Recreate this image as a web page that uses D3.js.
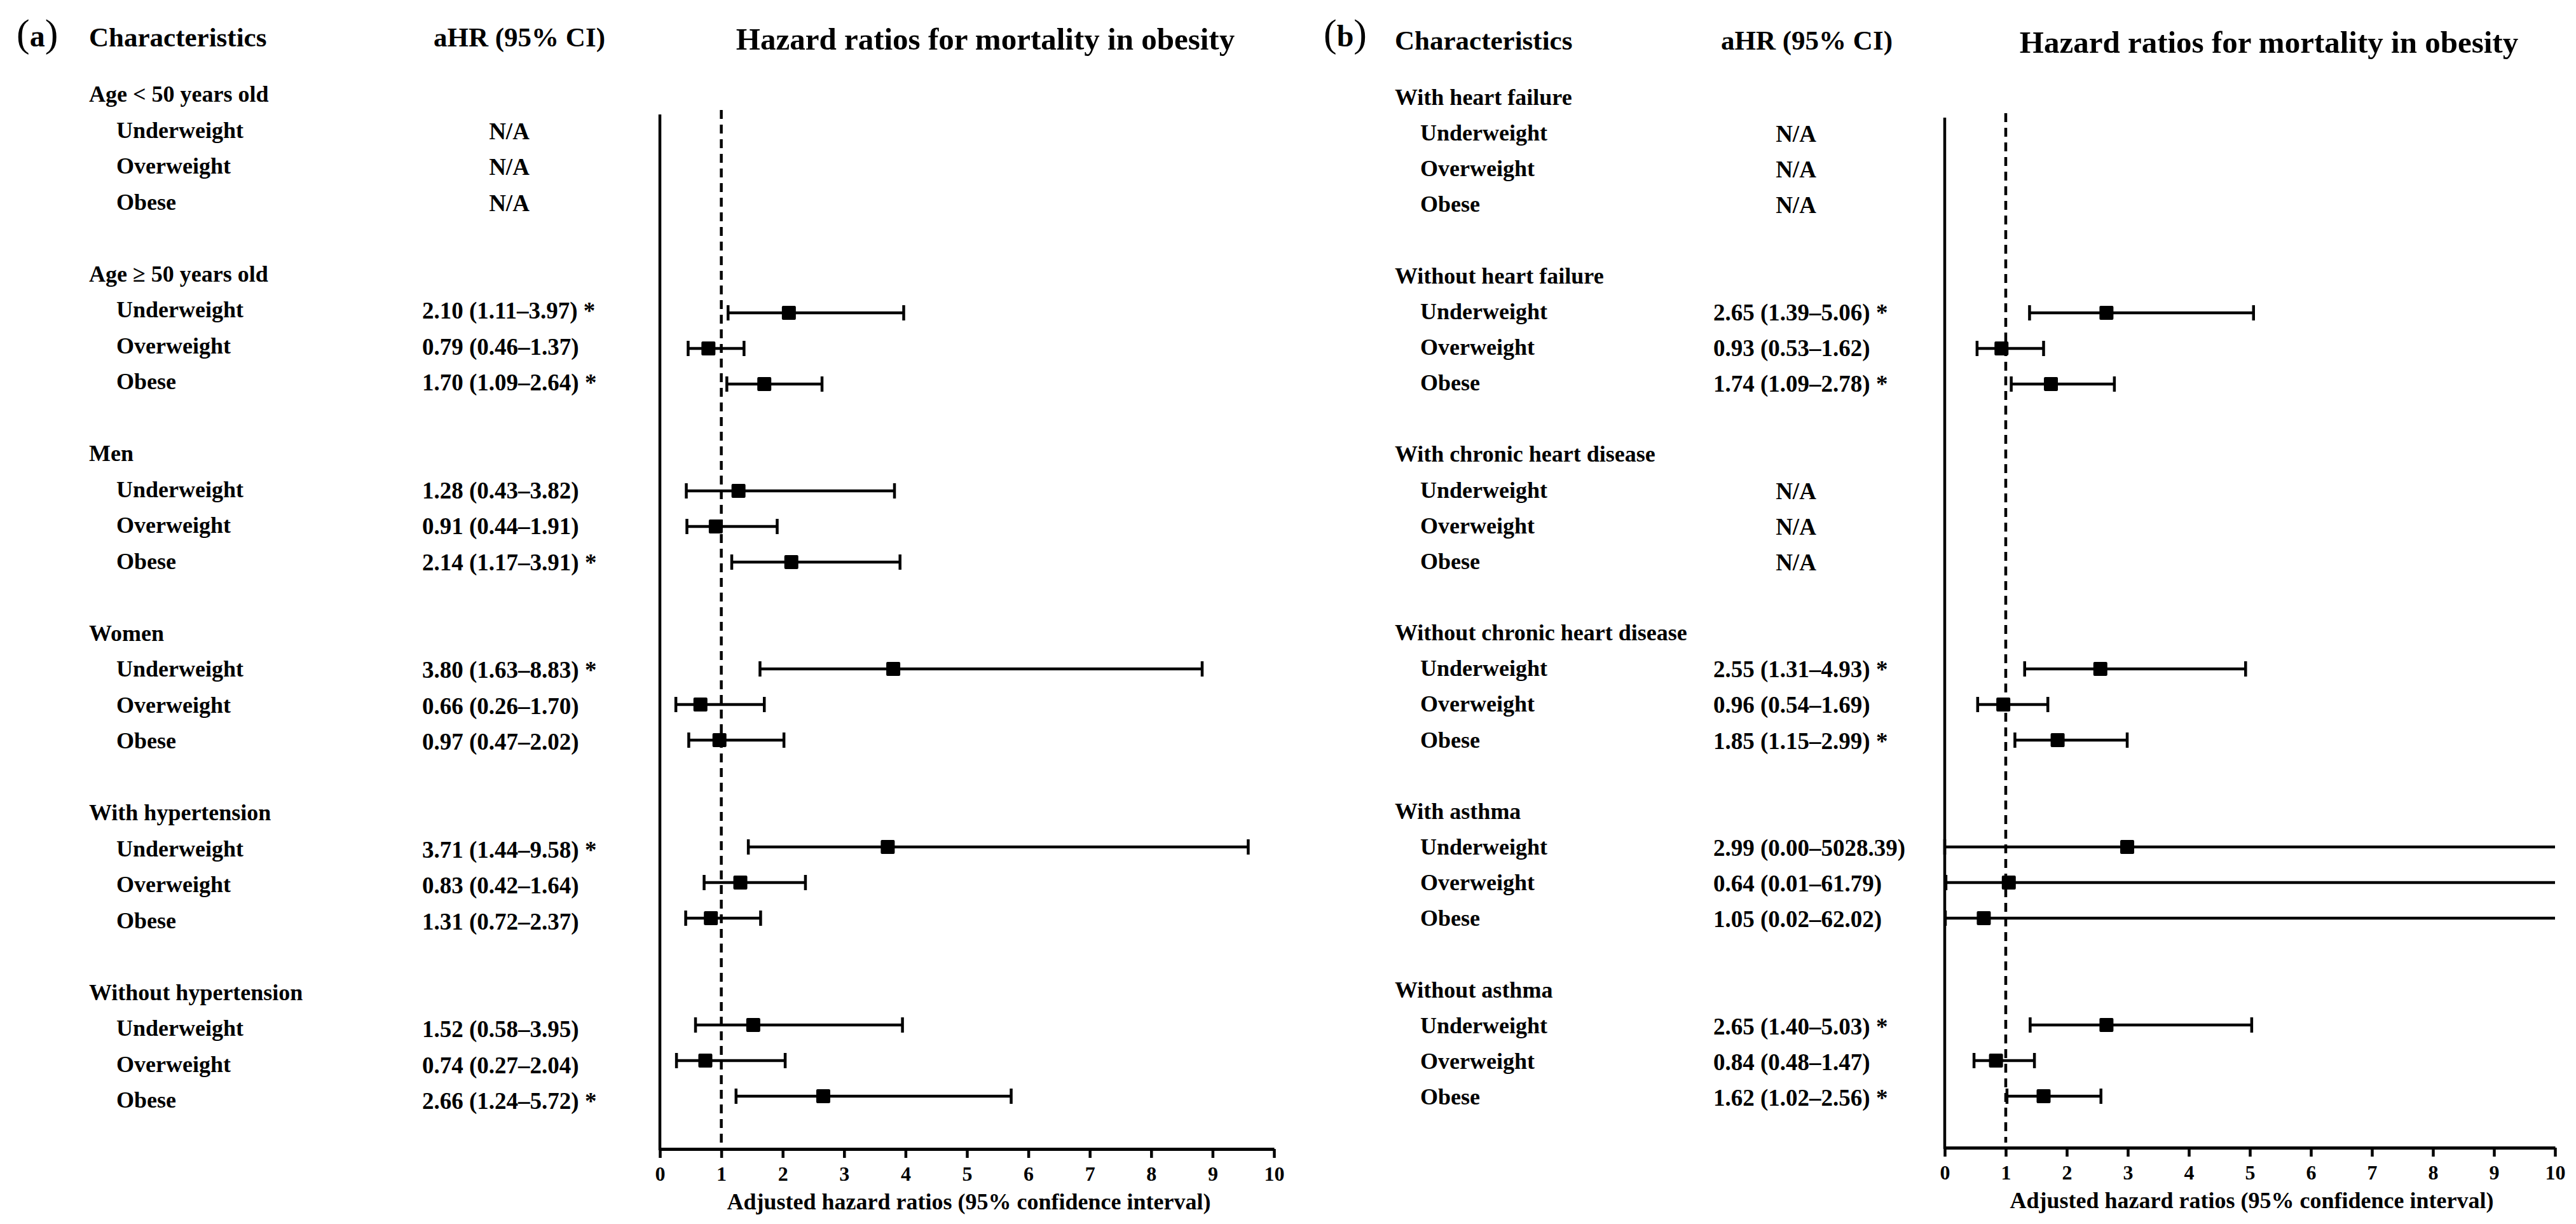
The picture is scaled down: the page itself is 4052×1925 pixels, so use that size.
<!DOCTYPE html>
<html><head><meta charset="utf-8">
<script src="https://cdn.jsdelivr.net/npm/d3@7"></script>
<style>
body{margin:0;background:#fff;}
text{font-family:"Liberation Serif","Times New Roman",serif;font-weight:bold;fill:#000;}
</style>
</head><body>
<svg id="chart" width="4052" height="1925"></svg>
<script>
// ---------- data ----------
const categories = ["Underweight", "Overweight", "Obese"];

const groupsA = ["Age < 50 years old", "Age \u2265 50 years old", "Men", "Women", "With hypertension", "Without hypertension"];
const aHrTextA = [
  ["N/A", "N/A", "N/A"],
  ["2.10 (1.11\u20133.97) *", "0.79 (0.46\u20131.37)", "1.70 (1.09\u20132.64) *"],
  ["1.28 (0.43\u20133.82)", "0.91 (0.44\u20131.91)", "2.14 (1.17\u20133.91) *"],
  ["3.80 (1.63\u20138.83) *", "0.66 (0.26\u20131.70)", "0.97 (0.47\u20132.02)"],
  ["3.71 (1.44\u20139.58) *", "0.83 (0.42\u20131.64)", "1.31 (0.72\u20132.37)"],
  ["1.52 (0.58\u20133.95)", "0.74 (0.27\u20132.04)", "2.66 (1.24\u20135.72) *"]
];
// plotted values as drawn in the figure
const hrA = [[null, null, null], [2.10, 0.79, 1.70], [1.28, 0.91, 2.14], [3.80, 0.66, 0.97], [3.71, 1.31, 0.83], [1.52, 0.74, 2.66]];
const loA = [[null, null, null], [1.11, 0.46, 1.09], [0.43, 0.44, 1.17], [1.63, 0.26, 0.47], [1.44, 0.72, 0.42], [0.58, 0.27, 1.24]];
const hiA = [[null, null, null], [3.97, 1.37, 2.64], [3.82, 1.91, 3.91], [8.83, 1.70, 2.02], [9.58, 2.37, 1.64], [3.95, 2.04, 5.72]];

const groupsB = ["With heart failure", "Without heart failure", "With chronic heart disease", "Without chronic heart disease", "With asthma", "Without asthma"];
const aHrTextB = [
  ["N/A", "N/A", "N/A"],
  ["2.65 (1.39\u20135.06) *", "0.93 (0.53\u20131.62)", "1.74 (1.09\u20132.78) *"],
  ["N/A", "N/A", "N/A"],
  ["2.55 (1.31\u20134.93) *", "0.96 (0.54\u20131.69)", "1.85 (1.15\u20132.99) *"],
  ["2.99 (0.00\u20135028.39)", "0.64 (0.01\u201361.79)", "1.05 (0.02\u201362.02)"],
  ["2.65 (1.40\u20135.03) *", "0.84 (0.48\u20131.47)", "1.62 (1.02\u20132.56) *"]
];
const hrB = [[null, null, null], [2.65, 0.93, 1.74], [null, null, null], [2.55, 0.96, 1.85], [2.99, 1.05, 0.64], [2.65, 0.84, 1.62]];
const loB = [[null, null, null], [1.39, 0.53, 1.09], [null, null, null], [1.31, 0.54, 1.15], [0.00, 0.02, 0.01], [1.40, 0.48, 1.02]];
const hiB = [[null, null, null], [5.06, 1.62, 2.78], [null, null, null], [4.93, 1.69, 2.99], [5028.39, 62.02, 61.79], [5.03, 1.47, 2.56]];

const xTicks = [0, 1, 2, 3, 4, 5, 6, 7, 8, 9, 10];
const xDomain = [0, 10];
const refValue = 1;
const headerChar = "Characteristics";
const headerAhr = "aHR (95% CI)";
const plotTitle = "Hazard ratios for mortality in obesity";
const xAxisTitle = "Adjusted hazard ratios (95% confidence interval)";

// ---------- layout ----------
const panels = [
  {letter: "a", groups: groupsA, text: aHrTextA, hr: hrA, lo: loA, hi: hiA,
   letterX: 26, charX: 140, subX: 183, valX: 664, naX: 801, ahrX: 817,
   x0: 1038, x1: 2004, titleX: 1550, headY: 73, titleY: 78,
   textTop: 160, textBottom: 1742, axisTop: 180, dashTop: 173, axisY: 1807, labelY: 1902},
  {letter: "b", groups: groupsB, text: aHrTextB, hr: hrB, lo: loB, hi: hiB,
   letterX: 2082, charX: 2194, subX: 2234, valX: 2695, naX: 2825, ahrX: 2842,
   x0: 3059, x1: 4019, titleX: 3569, headY: 78, titleY: 83,
   textTop: 165, textBottom: 1737, axisTop: 185, dashTop: 178, axisY: 1805, labelY: 1900}
];

const svg = d3.select("#chart");
const rowsPerGroup = 5;

panels.forEach((p, pi) => {
  const g = svg.append("g");
  const x = d3.scaleLinear().domain(xDomain).range([p.x0, p.x1]);
  const yText = d3.scaleLinear().domain([0, 28]).range([p.textTop, p.textBottom]);
  const yMark = d3.scaleLinear().domain([0, 28]).range([156, 1724]);

  // panel letter
  const lt = g.append("text").attr("x", p.letterX).attr("y", 73);
  lt.append("tspan").attr("font-size", 62).attr("font-weight", "normal").text("(");
  lt.append("tspan").attr("font-size", 48).attr("font-weight", "bold").text(p.letter);
  lt.append("tspan").attr("font-size", 62).attr("font-weight", "normal").text(")");

  g.append("text").attr("x", p.charX).attr("y", p.headY).attr("font-size", 43).text(headerChar);
  g.append("text").attr("x", p.ahrX).attr("y", p.headY).attr("font-size", 43).attr("text-anchor", "middle").text(headerAhr);
  g.append("text").attr("x", p.titleX).attr("y", p.titleY).attr("font-size", 49).attr("text-anchor", "middle").text(plotTitle);

  // rows
  const rows = [];
  p.groups.forEach((grp, gi) => {
    rows.push({type: "head", row: gi * rowsPerGroup, label: grp});
    categories.forEach((c, ci) => {
      rows.push({type: "item", row: gi * rowsPerGroup + 1 + ci, label: c, val: p.text[gi][ci],
        hr: p.hr[gi][ci], lo: p.lo[gi][ci], hi: p.hi[gi][ci]});
    });
  });

  g.selectAll("text.lab").data(rows).join("text").attr("class", "lab")
    .attr("x", d => d.type === "head" ? p.charX : p.subX)
    .attr("y", d => yText(d.row))
    .attr("font-size", 36)
    .text(d => d.label);

  const items = rows.filter(d => d.type === "item");
  g.selectAll("text.val").data(items).join("text").attr("class", "val")
    .attr("x", d => d.val === "N/A" ? p.naX : p.valX)
    .attr("text-anchor", d => d.val === "N/A" ? "middle" : "start")
    .attr("y", d => yText(d.row) + 2)
    .attr("font-size", 37)
    .text(d => d.val);

  // clip
  const cid = "clip" + pi;
  svg.append("defs").append("clipPath").attr("id", cid).append("rect")
    .attr("x", x(0) - 20).attr("y", 0).attr("width", x(10) - x(0) + 20).attr("height", 1925);

  // axes
  const ax = g.append("g").attr("transform", `translate(0,${p.axisY})`)
    .call(d3.axisBottom(x).tickValues(xTicks).tickSize(14).tickSizeOuter(0).tickFormat(d3.format("d")));
  ax.select(".domain").attr("stroke", "#000").attr("stroke-width", 5);
  ax.selectAll(".tick line").attr("stroke", "#000").attr("stroke-width", 4.5);
  ax.selectAll(".tick text").attr("y", 50).attr("dy", null)
    .attr("font-size", 32).attr("font-family", "Liberation Serif, Times New Roman, serif")
    .attr("font-weight", "bold").attr("fill", "#000");

  g.append("line").attr("x1", x(0)).attr("x2", x(0)).attr("y1", p.axisTop).attr("y2", p.axisY + 2)
    .attr("stroke", "#000").attr("stroke-width", 4.5);

  g.append("line").attr("x1", x(refValue)).attr("x2", x(refValue)).attr("y1", p.dashTop).attr("y2", p.axisY - 8)
    .attr("stroke", "#000").attr("stroke-width", 4.5).attr("stroke-dasharray", "14,9");

  g.append("text").attr("x", (x(0) + x(10)) / 2 + 3).attr("y", p.labelY).attr("font-size", 36)
    .attr("text-anchor", "middle").text(xAxisTitle);

  // marks
  const marks = items.filter(d => d.hr !== null);
  const mg = g.append("g").attr("clip-path", `url(#${cid})`);
  mg.selectAll("line.ci").data(marks).join("line").attr("class", "ci")
    .attr("x1", d => x(d.lo)).attr("x2", d => x(Math.min(d.hi, 10.05)))
    .attr("y1", d => yMark(d.row)).attr("y2", d => yMark(d.row))
    .attr("stroke", "#000").attr("stroke-width", 4.5);
  mg.selectAll("line.capl").data(marks).join("line").attr("class", "capl")
    .attr("x1", d => x(d.lo)).attr("x2", d => x(d.lo))
    .attr("y1", d => yMark(d.row) - 12).attr("y2", d => yMark(d.row) + 12)
    .attr("stroke", "#000").attr("stroke-width", 4.5);
  mg.selectAll("line.caph").data(marks.filter(d => d.hi <= 10)).join("line").attr("class", "caph")
    .attr("x1", d => x(d.hi)).attr("x2", d => x(d.hi))
    .attr("y1", d => yMark(d.row) - 12).attr("y2", d => yMark(d.row) + 12)
    .attr("stroke", "#000").attr("stroke-width", 4.5);
  mg.selectAll("rect.pt").data(marks).join("rect").attr("class", "pt")
    .attr("x", d => x(d.hr) - 11).attr("y", d => yMark(d.row) - 11)
    .attr("width", 22).attr("height", 22).attr("rx", 2).attr("fill", "#000");
});
</script>
</body></html>
